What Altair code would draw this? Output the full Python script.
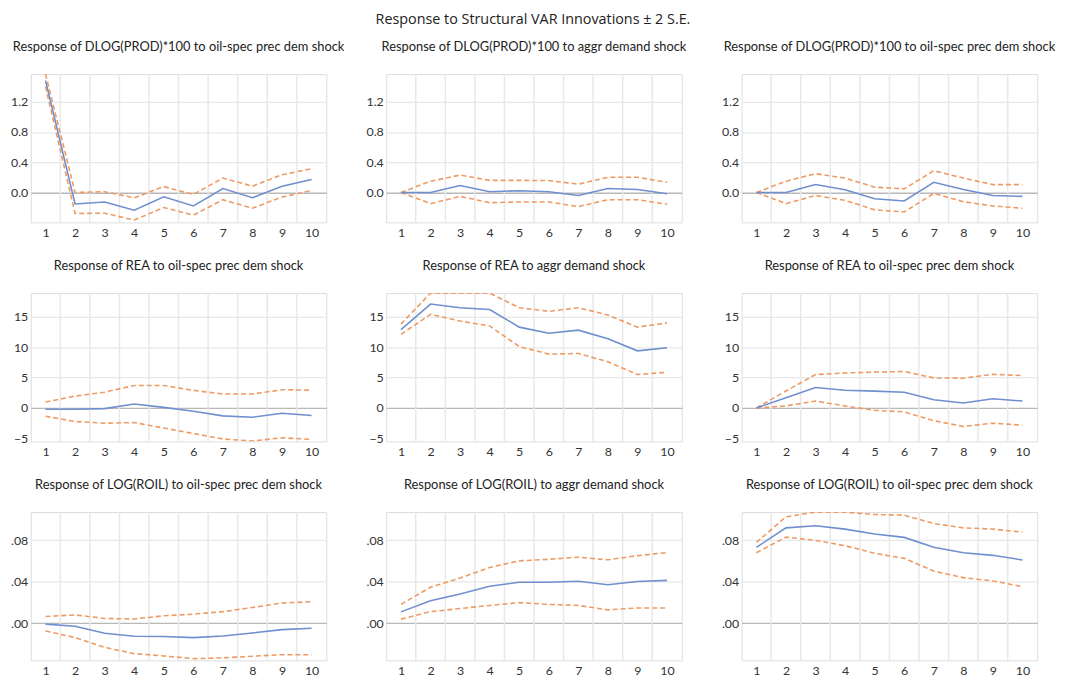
import altair as alt
import pandas as pd

periods = list(range(1, 11))

main_title = "Response to Structural VAR Innovations \u00b1 2 S.E."

titles = [
    "Response of DLOG(PROD)*100 to oil-spec prec dem shock",
    "Response of DLOG(PROD)*100 to aggr demand shock",
    "Response of DLOG(PROD)*100 to oil-spec prec dem shock",
    "Response of REA to oil-spec prec dem shock",
    "Response of REA to aggr demand shock",
    "Response of REA to oil-spec prec dem shock",
    "Response of LOG(ROIL) to oil-spec prec dem shock",
    "Response of LOG(ROIL) to aggr demand shock",
    "Response of LOG(ROIL) to oil-spec prec dem shock",
]

# Row 1: DLOG(PROD)*100
p1_resp = [1.48, -0.152, -0.126, -0.235, -0.057, -0.178, 0.052, -0.070, 0.083, 0.170]
p1_up = [1.565, 0.000, 0.010, -0.070, 0.078, -0.026, 0.190, 0.083, 0.235, 0.313]
p1_lo = [1.40, -0.278, -0.274, -0.365, -0.200, -0.300, -0.096, -0.209, -0.061, 0.026]

p2_resp = [0.0, 0.000, 0.091, 0.010, 0.022, 0.010, -0.040, 0.052, 0.040, -0.017]
p2_up = [0.0, 0.148, 0.230, 0.160, 0.160, 0.157, 0.110, 0.200, 0.200, 0.135]
p2_lo = [0.0, -0.148, -0.052, -0.135, -0.126, -0.126, -0.187, -0.096, -0.096, -0.157]

p3_resp = [0.0, 0.000, 0.104, 0.035, -0.083, -0.113, 0.135, 0.040, -0.040, -0.052]
p3_up = [0.0, 0.148, 0.248, 0.190, 0.070, 0.048, 0.287, 0.190, 0.104, 0.104]
p3_lo = [0.0, -0.148, -0.040, -0.104, -0.230, -0.257, -0.013, -0.122, -0.178, -0.209]

# Row 2: REA
p4_resp = [-0.22, -0.22, -0.11, 0.65, 0.10, -0.54, -1.30, -1.52, -0.87, -1.25]
p4_up = [0.98, 1.96, 2.60, 3.70, 3.70, 2.90, 2.30, 2.30, 3.00, 2.93]
p4_lo = [-1.36, -2.23, -2.50, -2.40, -3.30, -4.20, -5.10, -5.43, -4.90, -5.16]

p5_resp = [12.9, 17.1, 16.5, 16.2, 13.3, 12.3, 12.8, 11.4, 9.4, 9.9]
p5_up = [13.8, 18.9, 18.9, 18.9, 16.5, 15.9, 16.5, 15.3, 13.3, 14.0]
p5_lo = [12.1, 15.4, 14.3, 13.5, 10.1, 8.86, 8.97, 7.6, 5.5, 5.87]

p6_resp = [0.0, 1.70, 3.37, 2.93, 2.77, 2.60, 1.36, 0.82, 1.52, 1.14]
p6_up = [0.0, 2.80, 5.50, 5.76, 5.90, 6.00, 4.95, 4.90, 5.54, 5.33]
p6_lo = [0.0, 0.33, 1.14, 0.33, -0.38, -0.65, -2.10, -3.04, -2.50, -2.83]

# Row 3: LOG(ROIL)
p7_resp = [-0.001, -0.003, -0.0098, -0.0127, -0.013, -0.014, -0.0124, -0.0095, -0.0063, -0.005]
p7_up = [0.0063, 0.0079, 0.0044, 0.004, 0.007, 0.0086, 0.011, 0.015, 0.0193, 0.0206]
p7_lo = [-0.0076, -0.014, -0.0235, -0.0295, -0.0317, -0.0343, -0.0336, -0.032, -0.0305, -0.0305]

p8_resp = [0.0108, 0.0216, 0.028, 0.0355, 0.0394, 0.0394, 0.0403, 0.037, 0.040, 0.0412]
p8_up = [0.018, 0.0346, 0.0434, 0.0536, 0.060, 0.0615, 0.0635, 0.061, 0.065, 0.068]
p8_lo = [0.0038, 0.011, 0.014, 0.017, 0.0197, 0.018, 0.017, 0.0127, 0.0146, 0.0146]

p9_resp = [0.073, 0.0918, 0.0938, 0.0906, 0.0858, 0.0826, 0.073, 0.0678, 0.0653, 0.0608]
p9_up = [0.0778, 0.1024, 0.1070, 0.1070, 0.1046, 0.104, 0.096, 0.0918, 0.0906, 0.0877]
p9_lo = [0.0678, 0.0829, 0.0797, 0.0746, 0.0672, 0.0624, 0.0502, 0.0438, 0.0406, 0.0352]

panels = [
    (p1_resp, p1_up, p1_lo), (p2_resp, p2_up, p2_lo), (p3_resp, p3_up, p3_lo),
    (p4_resp, p4_up, p4_lo), (p5_resp, p5_up, p5_lo), (p6_resp, p6_up, p6_lo),
    (p7_resp, p7_up, p7_lo), (p8_resp, p8_up, p8_lo), (p9_resp, p9_up, p9_lo),
]

row_domains = [[-0.396, 1.565], [-5.5, 18.9], [-0.036, 0.107]]
row_ticks = [[0.0, 0.4, 0.8, 1.2], [-5, 0, 5, 10, 15], [0.0, 0.04, 0.08]]
row_label_expr = [
    "format(datum.value, '.1f')",
    "format(datum.value, 'd')",
    "substring(format(datum.value, '.2f'), 1)",
]

FONT = "Lato"
BLUE = "#6f8fcf"
ORANGE = "#ee9a62"
GRID = "#e8e8e8"
ZERO = "#b9b9b9"

boundaries = [p + 0.5 for p in periods[:-1]]
xscale = alt.Scale(domain=[periods[0] - 0.5, periods[-1] + 0.5], nice=False, zero=False)
xaxis = alt.Axis(values=periods, format="d", grid=False, domain=False, ticks=False,
                 labelPadding=4, title=None, labelFontSize=12.5, labelColor="#333333",
                 labelFont=FONT)


def make_panel(i):
    resp, up, lo = panels[i]
    row = i // 3
    yscale = alt.Scale(domain=row_domains[row], nice=False, zero=False)
    yaxis = alt.Axis(
        values=row_ticks[row],
        labelExpr=row_label_expr[row],
        grid=True,
        gridColor={"condition": {"test": "datum.value === 0", "value": ZERO}, "value": GRID},
        gridOpacity={"condition": {"test": "datum.value < 0", "value": 0}, "value": 1},
        gridWidth=1.3,
        domain=False, ticks=False, labelPadding=3, title=None,
        labelFontSize=12.5, labelColor="#333333", labelFont=FONT,
    )
    df = pd.DataFrame({
        "period": periods * 3,
        "value": resp + up + lo,
        "series": ["resp"] * 10 + ["upper"] * 10 + ["lower"] * 10,
    })
    bdf = pd.DataFrame({"b": boundaries})
    vgrid = alt.Chart(bdf).mark_rule(color=GRID, strokeWidth=1.5).encode(
        x=alt.X("b:Q", scale=xscale, axis=xaxis)
    )
    bands = alt.Chart(df).transform_filter(alt.datum.series != "resp").mark_line(
        color=ORANGE, strokeWidth=1.6, strokeDash=[5, 3], clip=True
    ).encode(
        x=alt.X("period:Q", scale=xscale, axis=xaxis),
        y=alt.Y("value:Q", scale=yscale, axis=yaxis),
        detail="series:N",
    )
    line = alt.Chart(df).transform_filter(alt.datum.series == "resp").mark_line(
        color=BLUE, strokeWidth=1.6, clip=True
    ).encode(
        x=alt.X("period:Q", scale=xscale, axis=xaxis),
        y=alt.Y("value:Q", scale=yscale, axis=yaxis),
    )
    return alt.layer(vgrid, bands, line).properties(
        width=299, height=150,
        title=alt.TitleParams(titles[i], fontSize=13, font=FONT, fontWeight="normal",
                              color="#222222", offset=20, anchor="middle"),
    )


chart = alt.concat(*[make_panel(i) for i in range(9)], columns=3, spacing={"row": 71.5, "column": 60.5}).properties(
    bounds="flush",
    title=alt.TitleParams(main_title, fontSize=14.5, font="Open Sans", fontWeight="normal",
                          color="#222222", anchor="middle", offset=13),
    padding={"left": 2, "top": 0, "right": 2, "bottom": 2},
).configure_view(stroke=None).configure(background="white")

chart.save("out.html", embed_options={"renderer": "svg", "actions": False})
